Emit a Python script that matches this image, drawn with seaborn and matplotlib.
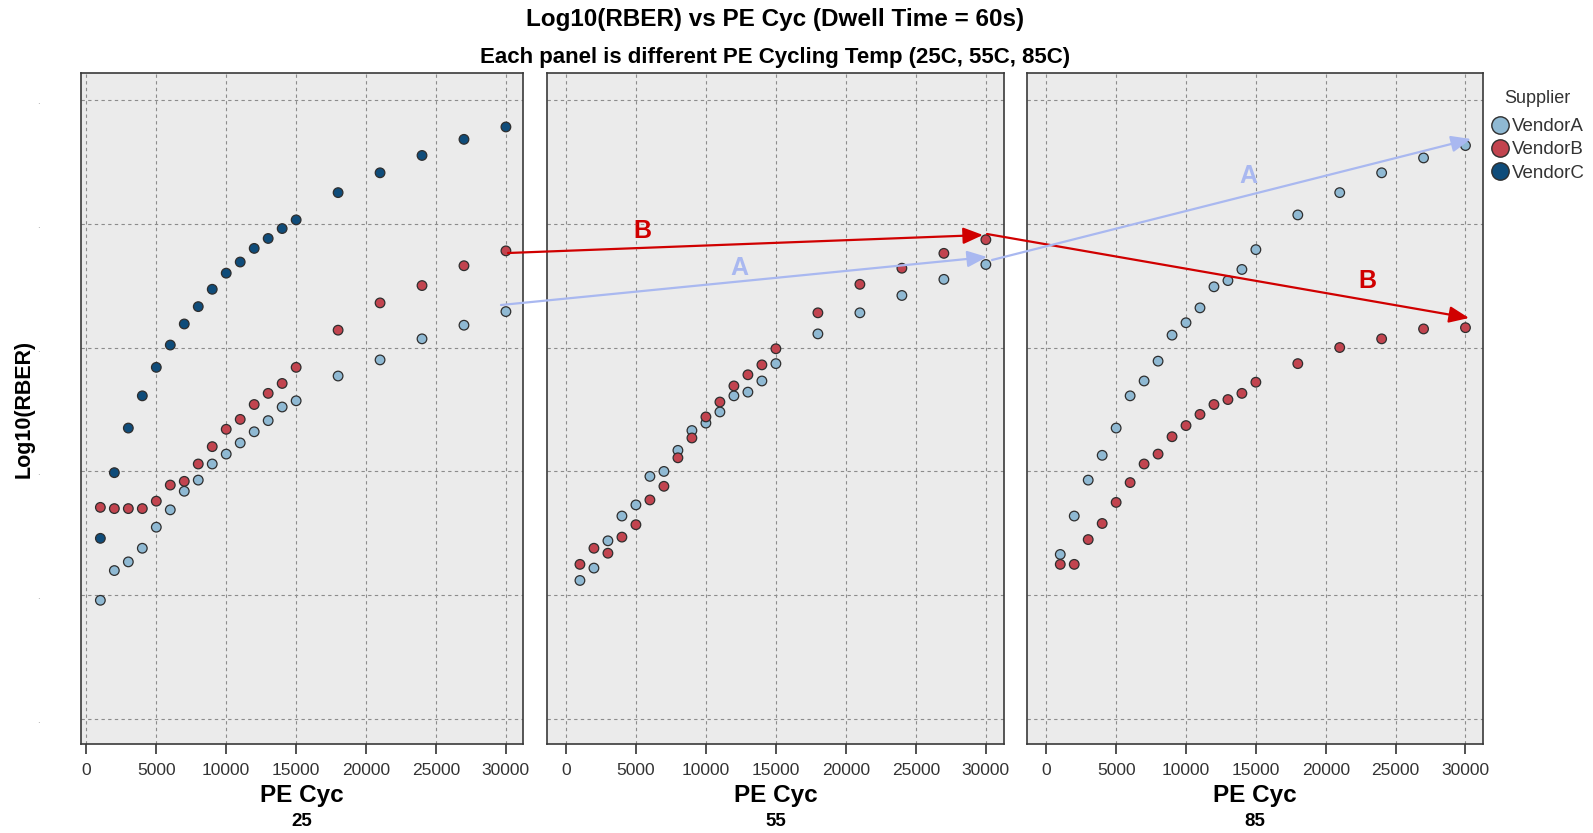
import numpy as np
import pandas as pd
import matplotlib
matplotlib.use("Agg")
import matplotlib.pyplot as plt
from matplotlib.lines import Line2D
import seaborn as sns

# PE cycle points (same for every panel / vendor)
pe_cyc = [1000, 2000, 3000, 4000, 5000, 6000, 7000, 8000, 9000, 10000,
          11000, 12000, 13000, 14000, 15000, 18000, 21000, 24000, 27000, 30000]

# 25C panel
t25_vendor_a = [-6.04, -5.80, -5.73, -5.62, -5.45, -5.31, -5.16, -5.07, -4.94, -4.86,
                -4.77, -4.68, -4.59, -4.48, -4.43, -4.23, -4.10, -3.93, -3.82, -3.71]
t25_vendor_b = [-5.29, -5.30, -5.30, -5.30, -5.24, -5.11, -5.08, -4.94, -4.80, -4.66,
                -4.58, -4.46, -4.37, -4.29, -4.16, -3.86, -3.64, -3.50, -3.34, -3.22]
t25_vendor_c = [-5.54, -5.01, -4.65, -4.39, -4.16, -3.98, -3.81, -3.67, -3.53, -3.40,
                -3.31, -3.20, -3.12, -3.04, -2.97, -2.75, -2.59, -2.45, -2.32, -2.22]

# 55C panel
t55_vendor_a = [-5.88, -5.78, -5.56, -5.36, -5.27, -5.04, -5.00, -4.83, -4.67, -4.61,
                -4.52, -4.39, -4.36, -4.27, -4.13, -3.89, -3.72, -3.58, -3.45, -3.33]
t55_vendor_b = [-5.75, -5.62, -5.66, -5.53, -5.43, -5.23, -5.12, -4.89, -4.73, -4.56,
                -4.44, -4.31, -4.22, -4.14, -4.01, -3.72, -3.49, -3.36, -3.24, -3.13]

# 85C panel
t85_vendor_a = [-5.67, -5.36, -5.07, -4.87, -4.65, -4.39, -4.27, -4.11, -3.90, -3.80,
                -3.68, -3.51, -3.46, -3.37, -3.21, -2.93, -2.75, -2.59, -2.47, -2.37]
t85_vendor_b = [-5.75, -5.75, -5.55, -5.42, -5.25, -5.09, -4.94, -4.86, -4.72, -4.63,
                -4.54, -4.46, -4.42, -4.37, -4.28, -4.13, -4.00, -3.93, -3.85, -3.84]

temps = ["25", "55", "85"]
suppliers = ["VendorA", "VendorB", "VendorC"]
palette = {"VendorA": "#8fb9d3", "VendorB": "#c2444f", "VendorC": "#0f4c7a"}

panel_data = {
    "25": {"VendorA": t25_vendor_a, "VendorB": t25_vendor_b, "VendorC": t25_vendor_c},
    "55": {"VendorA": t55_vendor_a, "VendorB": t55_vendor_b},
    "85": {"VendorA": t85_vendor_a, "VendorB": t85_vendor_b},
}

rows = []
for t, d in panel_data.items():
    for sup, vals in d.items():
        for x, y in zip(pe_cyc, vals):
            rows.append({"Temp": t, "Supplier": sup, "PE Cyc": x, "Log10(RBER)": y})
df = pd.DataFrame(rows)

sns.set_style("whitegrid", {"axes.facecolor": "#ebebeb"})
plt.rcParams["font.family"] = ["Liberation Sans", "DejaVu Sans"]

W, H = 1593, 833
fig = plt.figure(figsize=(W / 100, H / 100), dpi=100, facecolor="white")

positions = [[0.0508, 0.1068, 0.2775, 0.8055],
             [0.3434, 0.1068, 0.2869, 0.8055],
             [0.6447, 0.1068, 0.2863, 0.8055]]
xlims = [(-390, 31220), (-1350, 31300), (-1380, 31260)]

for i, t in enumerate(temps):
    ax = fig.add_axes(positions[i])
    sub = df[df["Temp"] == t]
    sns.scatterplot(data=sub, x="PE Cyc", y="Log10(RBER)", hue="Supplier",
                    hue_order=suppliers, palette=palette, s=48,
                    edgecolor="#2e2e2e", linewidth=0.9, legend=False, ax=ax, zorder=3)
    ax.set_xlim(*xlims[i])
    ax.set_ylim(-7.2, -1.785)
    ax.set_xticks(range(0, 30001, 5000))
    ax.set_yticks([-2, -3, -4, -5, -6, -7])
    ax.grid(True, color="#8c8c8c", linestyle=(0, (3, 3)), linewidth=0.8)
    ax.set_axisbelow(True)
    for sp in ax.spines.values():
        sp.set_color("#3a3a3a")
        sp.set_linewidth(1.2)
    ax.tick_params(axis="x", direction="out", length=7, width=1.1, color="#222222",
                   labelsize=12.5, labelcolor="#333333", pad=7, bottom=True)
    ax.set_xlabel("PE Cyc", fontsize=17.5, fontweight="bold", color="black")
    ax.xaxis.set_label_coords(0.5, -0.06)
    ax.text(0.5, -0.115, t, transform=ax.transAxes, ha="center", va="center",
            fontsize=13.5, fontweight="bold", color="black")
    if i == 0:
        ax.set_yticklabels(["."] * 6, fontsize=7, color="#999999")
        ax.tick_params(axis="y", length=0, pad=30)
        ax.set_ylabel("Log10(RBER)", fontsize=15.5, fontweight="bold", color="black")
        ax.yaxis.set_label_coords(-0.105, 0.5)
    else:
        ax.set_yticklabels([])
        ax.tick_params(axis="y", length=0)
        ax.set_ylabel("")

fig.text(0.4865, 0.977, "Log10(RBER) vs PE Cyc (Dwell Time = 60s)", ha="center",
         va="center", fontsize=17.5, fontweight="bold", color="black")
fig.text(0.4865, 0.931, "Each panel is different PE Cycling Temp (25C, 55C, 85C)", ha="center",
         va="center", fontsize=16, fontweight="bold", color="black")

# legend
handles = [Line2D([], [], marker="o", linestyle="", markersize=12.5,
                  markerfacecolor=palette[s], markeredgecolor="#2e2e2e",
                  markeredgewidth=1.0, label=s) for s in suppliers]
leg = fig.legend(handles=handles, title="Supplier", loc="upper left",
                 bbox_to_anchor=(1477 / W, 1 - 77 / H), frameon=False,
                 fontsize=13.5, title_fontsize=13, handletextpad=0.05,
                 handlelength=1.1, labelspacing=0.32, borderpad=0.2)
leg.get_title().set_color("#333333")
leg._legend_box.sep = 8
for txt in leg.get_texts():
    txt.set_color("#333333")


# annotation arrows drawn on top of the panels (figure pixel coords, y from top)
def fig_arrow(p0, p1, color):
    fig.add_artist(matplotlib.patches.FancyArrowPatch(
        (p0[0] / W, 1 - p0[1] / H), (p1[0] / W, 1 - p1[1] / H),
        transform=fig.transFigure, arrowstyle="-|>,head_length=12,head_width=5",
        color=color, linewidth=1.6, shrinkA=0, shrinkB=0, zorder=10))


red = "#d00000"
blue = "#a9b8f0"
fig_arrow((508, 253), (983, 235), red)
fig_arrow((987, 234), (1469, 318), red)
fig_arrow((501, 305), (987, 257), blue)
fig_arrow((992, 260), (1471, 139), blue)

for lab, (px, py), c in [("B", (642, 231), red), ("A", (739, 268), blue),
                         ("A", (1248, 176), blue), ("B", (1367, 281), red)]:
    fig.text(px / W, 1 - py / H, lab, color=c, fontsize=18, fontweight="bold",
             ha="center", va="center", zorder=11)

fig.savefig("out.png", dpi=100, facecolor="white")
